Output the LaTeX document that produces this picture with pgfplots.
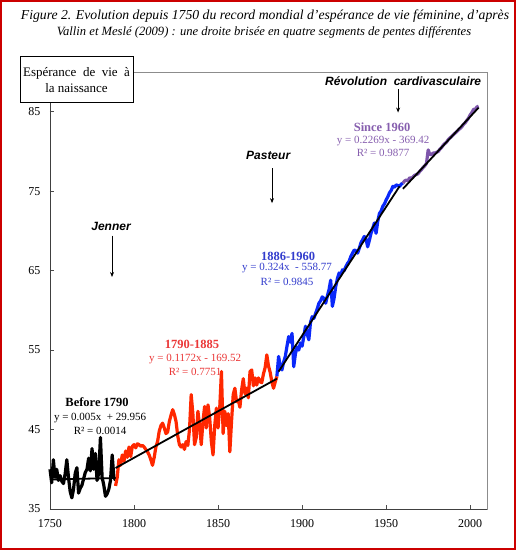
\documentclass[border=0pt]{standalone}
\usepackage{fontspec}
\setmainfont{Liberation Serif}
\newfontfamily\arial{Liberation Sans}
\usepackage{pgfplots}
\pgfplotsset{compat=1.18}
\usetikzlibrary{arrows.meta,decorations.pathmorphing}
\definecolor{serred}{RGB}{255,40,0}
\definecolor{serblue}{RGB}{10,40,250}
\definecolor{serpurple}{RGB}{125,85,170}
\definecolor{txtred}{RGB}{235,55,55}
\definecolor{txtblue}{RGB}{50,60,205}
\definecolor{txtpurple}{RGB}{135,95,175}
\newlength\wa
\newlength\wb
\pgfplotstableread{
year val
1750 40.0
1751 38.3
1752 41.2
1753 39.0
1754 40.0
1755 38.6
1756 39.2
1757 38.5
1758 38.2
1759 39.4
1760 41.2
1761 39.0
1762 37.2
1763 36.4
1764 37.5
1765 39.5
1766 40.2
1767 37.0
1768 37.6
1769 38.0
1770 38.8
1771 39.6
1772 40.0
1773 41.4
1774 39.8
1775 42.6
1776 40.0
1777 42.0
1778 38.6
1779 39.5
1780 44.0
1781 39.0
1782 38.0
1783 36.6
1784 36.9
1785 37.5
1786 38.6
1787 41.8
1788 39.0
1789 38.6
}\before
\pgfplotstableread{
year val
1789 37.9
1790 39.0
1791 41.2
1792 40.5
1793 41.8
1794 41.0
1795 42.3
1796 41.5
1797 42.8
1798 41.6
1799 42.9
1800 43.1
1801 42.7
1802 43.2
1803 43.1
1804 42.9
1805 43.0
1806 42.8
1807 42.5
1808 42.2
1809 41.8
1810 41.2
1811 40.5
1812 41.5
1813 42.8
1814 43.5
1815 44.8
1816 45.5
1817 45.8
1818 45.2
1819 44.5
1820 44.7
1821 46.0
1822 46.8
1823 47.5
1824 46.9
1825 46.0
1826 44.2
1827 43.1
1828 42.8
1829 43.1
1830 42.5
1831 43.5
1832 43.0
1833 45.0
1834 49.4
1835 47.0
1836 43.1
1837 44.0
1838 47.3
1839 45.5
1840 43.1
1841 46.0
1842 47.9
1843 45.2
1844 48.1
1845 46.5
1846 43.5
1847 41.8
1848 45.5
1849 47.7
1850 45.2
1851 47.8
1852 52.3
1853 44.5
1854 47.3
1855 45.5
1856 47.0
1857 42.2
1858 46.0
1859 49.4
1860 50.2
1861 48.5
1862 48.7
1863 47.8
1864 50.0
1865 51.4
1866 49.5
1867 50.2
1868 49.0
1869 52.3
1870 52.5
1871 50.5
1872 51.5
1873 50.6
1874 51.5
1875 51.0
1876 50.9
1877 52.0
1878 52.8
1879 54.4
1880 53.0
1881 52.2
1882 51.0
1883 50.2
1884 51.0
1885 51.7
}\redser
\pgfplotstableread{
year val
1885 51.7
1886 54.2
1887 53.0
1888 52.5
1889 53.5
1890 54.2
1891 55.5
1892 56.7
1893 56.0
1894 57.1
1895 52.9
1896 54.5
1897 55.4
1898 55.0
1899 55.9
1900 55.5
1901 56.7
1902 58.0
1903 57.0
1904 56.3
1905 58.5
1906 59.2
1907 59.0
1908 59.6
1909 60.2
1910 60.9
1911 61.2
1912 61.7
1913 61.5
1914 60.9
1915 61.8
1916 62.6
1917 63.8
1918 60.5
1919 61.5
1920 63.0
1921 64.0
1922 64.7
1923 64.5
1924 65.1
1925 65.0
1926 65.5
1927 65.9
1928 66.2
1929 66.8
1930 67.2
1931 67.6
1932 67.5
1933 67.2
1934 67.8
1935 68.5
1936 68.9
1937 69.3
1938 69.0
1939 68.0
1940 68.8
1941 69.7
1942 70.3
1943 71.0
1944 69.7
1945 71.2
1946 72.2
1947 72.5
1948 73.1
1949 73.4
1950 73.9
1951 74.3
1952 74.8
1953 75.1
1954 75.6
1955 75.5
1956 75.8
1957 75.7
1958 75.6
1959 75.9
1960 76.0
}\blueser
\pgfplotstableread{
year val
1960 76.0
1961 76.3
1962 76.4
1963 76.3
1964 76.7
1965 76.6
1966 76.8
1967 77.0
1968 77.1
1969 77.2
1970 77.5
1971 77.7
1972 78.0
1973 78.2
1974 78.5
1975 80.2
1976 79.6
1977 79.6
1978 79.8
1979 79.8
1980 79.9
1981 80.0
1982 80.3
1983 80.5
1984 80.8
1985 81.0
1986 81.2
1987 81.5
1988 81.7
1989 81.9
1990 82.1
1991 82.3
1992 82.5
1993 82.7
1994 82.9
1995 83.1
1996 83.4
1997 83.6
1998 83.9
1999 84.2
2000 84.6
2001 84.9
2002 85.3
2003 85.3
2004 85.6
2005 85.7
}\purpleser
\begin{document}
\begin{tikzpicture}
\useasboundingbox (0bp,0bp) rectangle (516bp,550bp);
\fill[white] (0bp,0bp) rectangle (516bp,550bp);
\begin{axis}[
  at={(50bp,41bp)}, anchor=south west,
  scale only axis, width=437bp, height=437bp,
  xmin=1750, xmax=2010, ymin=35, ymax=90,
  xtick={1750,1800,1850,1900,1950,2000},
  ytick={35,45,55,65,75,85},
  xtick pos=bottom, ytick pos=left,
  tick align=inside, major tick length=4bp,
  tick style={black!70, line width=0.6bp},
  axis line style={draw=black!45, line width=0.7bp},
  ticklabel style={font=\fontsize{12bp}{14bp}\selectfont},
  xticklabel style={yshift=-7bp},
  yticklabel style={xshift=-6bp},
  /pgf/number format/assume math mode=true,
  /pgf/number format/1000 sep={},
  clip=false,
  every node/.append style={inner sep=0.8bp},
]
\draw[black!75, line width=0.8bp] (rel axis cs:0,1) -- (rel axis cs:0,0) -- (rel axis cs:1,0);
\addplot[black, line width=3.2bp, line join=round] table[x=year,y=val] {\before};
\addplot[serred, line width=3.2bp, line join=round] table[x=year,y=val] {\redser};
\addplot[serblue, line width=3.2bp, line join=round] table[x=year,y=val] {\blueser};
\addplot[serpurple, line width=3.2bp, line join=round] table[x=year,y=val] {\purpleser};
\addplot[black, line width=1.8bp] coordinates {(1750,38.71) (1789,38.90)};
\addplot[black, line width=1.8bp] coordinates {(1789,40.16) (1885,51.40)};
\addplot[black, line width=1.8bp] coordinates {(1886,52.29) (1958,75.62)};
\addplot[black, line width=1.8bp] coordinates {(1960,75.30) (2005,85.51)};
% regression labels
\node[font=\fontsize{12.5bp}{14bp}\selectfont\bfseries] at (axis cs:1778,48.4) {Before 1790};
\node[font=\fontsize{11bp}{13bp}\selectfont] at (axis cs:1779.8,46.5) {y = 0.005x\ \ + 29.956};
\node[font=\fontsize{11bp}{13bp}\selectfont] at (axis cs:1779.8,44.85) {R² = 0.0014};
\node[font=\fontsize{12.5bp}{14bp}\selectfont\bfseries, text=txtred] at (axis cs:1834.5,55.7) {1790-1885};
\node[font=\fontsize{11bp}{13bp}\selectfont, text=txtred] at (axis cs:1836.3,53.85) {y = 0.1172x - 169.52};
\node[font=\fontsize{11bp}{13bp}\selectfont, text=txtred] at (axis cs:1836.3,52.2) {R² = 0.7751};
\node[font=\fontsize{12.5bp}{14bp}\selectfont\bfseries, text=txtblue] at (axis cs:1891.7,66.85) {1886-1960};
\node[font=\fontsize{11bp}{13bp}\selectfont, text=txtblue] at (axis cs:1891,65.3) {y = 0.324x\ \ - 558.77};
\node[font=\fontsize{11bp}{13bp}\selectfont, text=txtblue] at (axis cs:1891,63.6) {R² = 0.9845};
\node[font=\fontsize{12.5bp}{14bp}\selectfont\bfseries, text=txtpurple] at (axis cs:1947.6,83.05) {Since 1960};
\node[font=\fontsize{11bp}{13bp}\selectfont, text=txtpurple] at (axis cs:1948.2,81.35) {y = 0.2269x - 369.42};
\node[font=\fontsize{11bp}{13bp}\selectfont, text=txtpurple] at (axis cs:1948.2,79.8) {R² = 0.9877};
% historical annotations
\node[font=\arial\bfseries\itshape\fontsize{12bp}{14bp}\selectfont] at (axis cs:1786.3,70.6) {Jenner};
\draw[-{Stealth[length=5bp,width=4bp]}, line width=0.7bp] (axis cs:1786.9,69.4) -- (axis cs:1786.9,64.2);
\node[font=\arial\bfseries\itshape\fontsize{12bp}{14bp}\selectfont] at (axis cs:1879.8,79.5) {Pasteur};
\draw[-{Stealth[length=5bp,width=4bp]}, line width=0.7bp] (axis cs:1882.1,77.9) -- (axis cs:1882.1,73.5);
\node[font=\arial\bfseries\itshape\fontsize{12bp}{14bp}\selectfont] at (axis cs:1960.1,88.9) {Révolution\ \ cardivasculaire};
\draw[-{Stealth[length=5bp,width=4bp]}, line width=0.7bp] (axis cs:1957.1,87.8) -- (axis cs:1957.1,84.9);
\end{axis}
% y label box
\draw[black, fill=white, line width=0.8bp] (20bp,448bp) rectangle (133bp,494bp);
\node[font=\fontsize{13bp}{15bp}\selectfont] at (76.5bp,477bp) {Espérance\ \ de\ \ vie\ \ à};
\node[font=\fontsize{13bp}{15bp}\selectfont] at (76.5bp,462bp) {la naissance};
% title
\node[font=\fontsize{13.7bp}{16bp}\selectfont\itshape] at (265bp,534bp) {Figure 2. Evolution depuis 1750 du record mondial d’espérance de vie féminine, d’après};
\node[inner sep=0pt, font=\fontsize{12.6bp}{14bp}\selectfont\itshape] (L2) at (264bp,518bp) {Vallin et Meslé (2009) : une droite brisée en quatre segments de pentes différentes};
\settowidth{\wa}{\fontsize{12.6bp}{14bp}\selectfont\itshape Vallin et }
\settowidth{\wb}{\fontsize{12.6bp}{14bp}\selectfont\itshape Meslé}
\draw[red, line width=0.6bp, decorate, decoration={snake, amplitude=0.7bp, segment length=2.5bp}] ([xshift=\wa, yshift=-2.5bp]L2.base west) -- ++(\wb,0pt);
% frame
\draw[red!80!black, line width=2bp] (1bp,1bp) rectangle (515bp,549bp);
\end{tikzpicture}
\end{document}
